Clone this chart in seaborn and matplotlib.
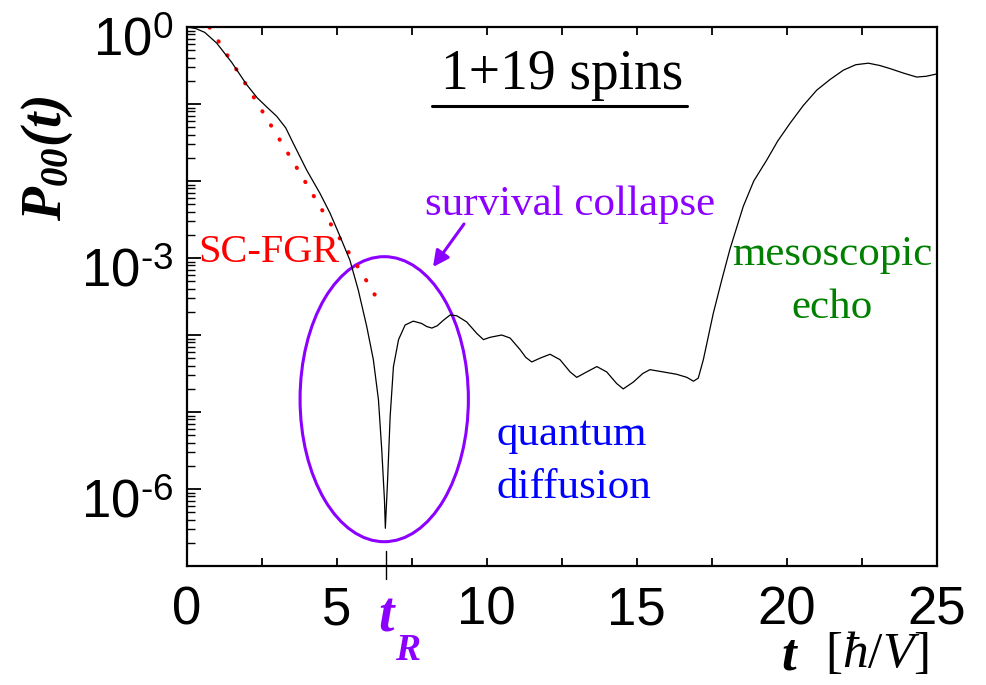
import numpy as np
import pandas as pd
import seaborn as sns
import matplotlib.pyplot as plt
from matplotlib.patches import Ellipse
from matplotlib.lines import Line2D
from matplotlib.transforms import ScaledTranslation
from matplotlib.ticker import LogLocator, MultipleLocator, FuncFormatter, NullFormatter

# exact survival probability as log10(P00)
t_exact = [0.0, 0.3, 0.6, 1.0, 1.5, 2.0, 2.35, 2.67, 3.0, 3.3, 3.55, 4.0, 4.44, 4.78,
           5.11, 5.44, 5.72, 6.0, 6.22, 6.39, 6.5, 6.59, 6.62, 6.69, 6.78, 6.89, 7.06,
           7.28, 7.55, 7.83, 8.0, 8.17, 8.35, 8.55, 8.78, 9.0, 9.33, 9.67, 9.89, 10.11,
           10.5, 10.78, 11.11, 11.3, 11.5, 11.78, 12.11, 12.44, 12.78, 13.0, 13.33,
           13.67, 14.0, 14.33, 14.55, 14.89, 15.2, 15.44, 15.89, 16.33, 16.67, 16.89,
           17.05, 17.22, 17.55, 17.83, 18.11, 18.55, 18.9, 19.33, 19.7, 20.11, 20.55,
           21.0, 21.45, 21.89, 22.3, 22.72, 23.1, 23.44, 23.9, 24.33, 24.65, 25.0]
log_p_exact = [0.0, -0.02, -0.07, -0.21, -0.46, -0.75, -0.92, -1.04, -1.16, -1.31,
               -1.51, -1.86, -2.16, -2.42, -2.72, -3.03, -3.42, -3.89, -4.32, -4.84,
               -5.49, -6.14, -6.51, -5.93, -5.06, -4.41, -4.06, -3.87, -3.82, -3.85,
               -3.89, -3.91, -3.88, -3.81, -3.74, -3.75, -3.83, -3.98, -4.06, -4.03,
               -4.0, -4.04, -4.19, -4.29, -4.35, -4.30, -4.25, -4.32, -4.48, -4.55,
               -4.48, -4.41, -4.48, -4.63, -4.70, -4.61, -4.50, -4.45, -4.48, -4.51,
               -4.55, -4.60, -4.56, -4.32, -3.72, -3.29, -2.88, -2.33, -2.0, -1.73,
               -1.48, -1.25, -1.02, -0.82, -0.68, -0.56, -0.49, -0.47, -0.50, -0.54,
               -0.60, -0.65, -0.64, -0.61]

# SC-FGR exponential decay (dotted)
t_fgr = [0.76, 1.05, 1.98, 2.89, 3.78, 4.67, 5.89, 6.5]
log_p_fgr = [-0.005, -0.18, -0.75, -1.33, -1.90, -2.48, -3.23, -3.63]

t_r = 6.63
labelled_exps = [0, -3, -6]

purple = '#8b00ff'

exact = pd.DataFrame({'t': t_exact, 'P': np.power(10.0, log_p_exact)})
fgr = pd.DataFrame({'t': t_fgr, 'P': np.power(10.0, log_p_fgr)})

sns.set_style('ticks', {'axes.edgecolor': 'black', 'xtick.color': 'black',
                        'ytick.color': 'black', 'text.color': 'black'})
plt.rcParams['font.family'] = ['Liberation Sans', 'DejaVu Sans']
plt.rcParams['mathtext.fontset'] = 'custom'
plt.rcParams['mathtext.rm'] = 'Liberation Sans'
plt.rcParams['mathtext.sf'] = 'Liberation Serif'
plt.rcParams['mathtext.bf'] = 'Liberation Serif:bold:italic'
plt.rcParams['mathtext.it'] = 'Liberation Serif:italic'

fig = plt.figure(figsize=(9.87, 6.85), dpi=100)
ax = fig.add_axes([0.1892, 0.1737, 0.7599, 0.7869])

sns.lineplot(data=fgr, x='t', y='P', color='red', lw=2.9, linestyle=(0, (0.1, 4.0)),
             dash_capstyle='round', sort=False, estimator=None, ax=ax)
sns.lineplot(data=exact, x='t', y='P', color='black', lw=0.9, sort=False,
             estimator=None, ax=ax)

ax.set_yscale('log')
ax.set_xlim(0, 25)
ax.set_ylim(1e-7, 1)
ax.set_xlabel('')
ax.set_ylabel('')

ax.yaxis.set_major_locator(LogLocator(base=10, numticks=20))
ax.yaxis.set_minor_locator(LogLocator(base=10, subs=np.arange(2, 10), numticks=100))
ax.yaxis.set_minor_formatter(NullFormatter())


def ylab(v, pos):
    e = int(round(np.log10(v)))
    if e not in labelled_exps:
        return ''
    return r'$10^{%s}$' % str(e).replace('-', '\u2010')


ax.yaxis.set_major_formatter(FuncFormatter(ylab))
ax.xaxis.set_major_locator(MultipleLocator(5))
ax.xaxis.set_minor_locator(MultipleLocator(2.5))

ax.tick_params(axis='y', which='major', direction='in', length=10, width=1.3,
               labelsize=38, pad=10, right=False, colors='black')
ax.tick_params(axis='y', which='minor', direction='in', length=6, width=1.0,
               right=False, colors='black')
ax.tick_params(axis='x', which='both', direction='in', length=6, width=1.3,
               labelsize=38, pad=14, top=True, colors='black')
for s in ax.spines.values():
    s.set_linewidth(1.6)
    s.set_color('black')

# y tick labels sit a little below their ticks in the reference
shift = ScaledTranslation(0, -9 / 100, fig.dpi_scale_trans)
for lab in ax.get_yticklabels():
    lab.set_transform(lab.get_transform() + shift)

# t_R marker across the bottom axis
ax.axvline(t_r, ymin=-0.024, ymax=0.027, color='black', lw=1.0, clip_on=False)

ax.add_patch(Ellipse((0.2633, 0.3095), 0.2244, 0.5288, transform=ax.transAxes,
                     fill=False, ec=purple, lw=2.2))

W, H = 987.0, 685.0


def fx(px):
    return px / W


def fy(py):
    return 1 - py / H


serif = ['Liberation Serif', 'DejaVu Serif']

fig.text(fx(47), fy(158), r'$\mathbf{P_{00}(t)}$', rotation=90, fontsize=40,
         ha='center', va='center', color='black')
fig.text(fx(561.7), fy(89), '1+19 spins', family=serif, fontsize=40,
         ha='center', va='baseline', color='black')
fig.add_artist(Line2D([fx(432), fx(687)], [fy(105.7), fy(105.7)], color='black', lw=2.2))

fig.text(fx(198), fy(262), 'SC-FGR', family=serif, color='red', fontsize=29, va='baseline')
fig.text(fx(425), fy(215), 'survival collapse', family=serif, color=purple, fontsize=31,
         va='baseline')
fig.text(fx(497), fy(445), 'quantum', family=serif, color='blue', fontsize=31, va='baseline')
fig.text(fx(497), fy(498), 'diffusion', family=serif, color='blue', fontsize=31, va='baseline')
fig.text(fx(832), fy(265), 'mesoscopic', family=serif, color='#008000', fontsize=31,
         ha='center', va='baseline')
fig.text(fx(832), fy(318), 'echo', family=serif, color='#008000', fontsize=31,
         ha='center', va='baseline')

ax.annotate('', xy=(fx(433), fy(267)), xytext=(fx(464), fy(224)),
            xycoords='figure fraction', textcoords='figure fraction',
            arrowprops=dict(arrowstyle='-|>', color=purple, lw=2.2, mutation_scale=24,
                            shrinkA=0, shrinkB=0))

fig.text(fx(378), fy(632), 't', family=serif, weight='bold', style='italic',
         color=purple, fontsize=40, va='baseline')
fig.text(fx(395), fy(660), 'R', family=serif, weight='bold', style='italic',
         color=purple, fontsize=27, va='baseline')

fig.text(fx(781), fy(669), 't', family=serif, weight='bold', style='italic',
         fontsize=38, va='baseline', color='black')
fig.text(fx(825), fy(667), r'$\mathsf{[}\hbar\mathsf{/}V\mathsf{]}$', fontsize=37,
         va='baseline', color='black')

fig.savefig('out.png', dpi=100)
